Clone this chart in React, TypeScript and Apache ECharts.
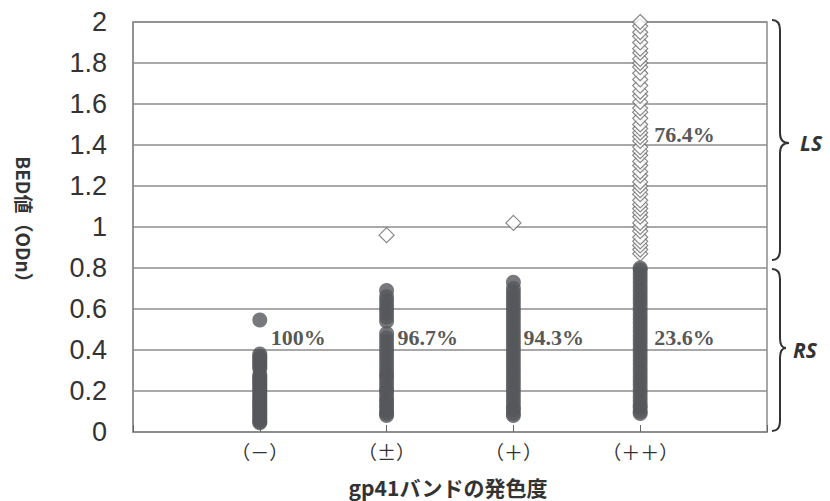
import React, { useEffect, useRef } from "react";
import * as echarts from "echarts";

// Category tick labels on the x value axis (positions 0..5)
const xTickLabels = ["", "（－）", "（±）", "（＋）", "（＋＋）", ""];
const yTicks = [0, 0.2, 0.4, 0.6, 0.8, 1, 1.2, 1.4, 1.6, 1.8, 2];
const xTitle = "gp41バンドの発色度";
const yTitle = "BED値（ODn）";

// Filled (RS) points per category
const filledMinus = [0.045, 0.05, 0.06, 0.07, 0.08, 0.09, 0.1, 0.11, 0.12, 0.13, 0.14, 0.15, 0.16, 0.17, 0.18, 0.19, 0.2, 0.21, 0.22, 0.23, 0.24, 0.25, 0.26, 0.27, 0.28, 0.31, 0.32, 0.33, 0.34, 0.35, 0.36, 0.37, 0.38, 0.546];
const filledPm = [0.08, 0.09, 0.1, 0.12, 0.13, 0.15, 0.16, 0.18, 0.2, 0.21, 0.23, 0.25, 0.27, 0.28, 0.3, 0.32, 0.34, 0.36, 0.38, 0.4, 0.42, 0.44, 0.46, 0.48, 0.54, 0.56, 0.58, 0.6, 0.62, 0.64, 0.66, 0.69];
const filledPlus = [0.08, 0.09, 0.11, 0.12, 0.14, 0.16, 0.18, 0.2, 0.22, 0.24, 0.26, 0.28, 0.3, 0.32, 0.34, 0.36, 0.38, 0.4, 0.42, 0.44, 0.46, 0.48, 0.5, 0.52, 0.54, 0.56, 0.58, 0.6, 0.62, 0.64, 0.66, 0.68, 0.7, 0.73];
const filledPP = [0.09, 0.1, 0.12, 0.13, 0.15, 0.17, 0.19, 0.21, 0.23, 0.25, 0.27, 0.29, 0.31, 0.33, 0.35, 0.37, 0.39, 0.41, 0.43, 0.45, 0.47, 0.49, 0.51, 0.53, 0.55, 0.57, 0.59, 0.61, 0.63, 0.65, 0.67, 0.69, 0.71, 0.73, 0.75, 0.77, 0.79, 0.8];

// Open diamond (LS) points per category
const openMinus: number[] = [];
const openPm = [0.96];
const openPlus = [1.02];
const openPP = [0.87, 0.89, 0.91, 0.93, 0.95, 0.98, 1.0, 1.02, 1.05, 1.07, 1.09, 1.11, 1.13, 1.16, 1.18, 1.2, 1.22, 1.25, 1.27, 1.3, 1.32, 1.35, 1.37, 1.39, 1.42, 1.44, 1.46, 1.48, 1.5, 1.53, 1.56, 1.58, 1.61, 1.64, 1.66, 1.69, 1.72, 1.75, 1.78, 1.8, 1.82, 1.85, 1.87, 1.9, 1.93, 1.95, 1.98, 2.0];

// Percentage labels
const pctX = [1, 2, 3, 4, 4];
const pctY = [0.46, 0.46, 0.46, 0.46, 1.45];
const pctText = ["100%", "96.7%", "94.3%", "23.6%", "76.4%"];
const pctDist = [11, 11, 10, 14, 14];

const braceLS = "M772 20 Q780 20 780 30 L780 133 Q780 143 789 143 Q780 143 780 153 L780 250 Q780 260 772 260";
const braceRS = "M772 269 Q780 269 780 279 L780 338 Q780 348 786 348 Q780 348 780 358 L780 421 Q780 431 772 431";
echarts.graphic.registerShape("braceLS", echarts.graphic.extendPath(braceLS, {}));
echarts.graphic.registerShape("braceRS", echarts.graphic.extendPath(braceRS, {}));

const filledGroups = [filledMinus, filledPm, filledPlus, filledPP];
const openGroups = [openMinus, openPm, openPlus, openPP];

export default function App() {
  const ref = useRef<HTMLDivElement>(null);
  useEffect(() => {
    if (!ref.current) return;
    const chart = echarts.init(ref.current, undefined, { renderer: "svg" });
    const filledData: number[][] = [];
    filledGroups.forEach((g, i) => g.forEach((v) => filledData.push([i + 1, v])));
    const openData: number[][] = [];
    openGroups.forEach((g, i) => g.forEach((v) => openData.push([i + 1, v])));
    const labelData = pctText.map((t, i) => ({
      value: [pctX[i], pctY[i]],
      label: { formatter: t, distance: pctDist[i] },
    }));
    const gridColor = "#8c8c8c";
    chart.setOption({
      animation: false,
      grid: { left: 133, right: 63, top: 22, bottom: 69, show: true, borderColor: gridColor, borderWidth: 1.5, backgroundColor: "transparent" },
      xAxis: {
        type: "value",
        min: 0,
        max: 5,
        interval: 1,
        axisLine: { lineStyle: { color: gridColor, width: 1.5 } },
        axisTick: { show: true, inside: true, length: 7, lineStyle: { color: "#666", width: 1 } },
        splitLine: { show: false },
        axisLabel: {
          formatter: (v: number) => xTickLabels[Math.round(v)] ?? "",
          fontFamily: "Noto Sans CJK JP",
          fontSize: 19,
          color: "#333",
          margin: 10,
        },
      },
      yAxis: {
        type: "value",
        min: yTicks[0],
        max: yTicks[yTicks.length - 1],
        interval: 0.2,
        axisLine: { show: true, lineStyle: { color: gridColor, width: 1.5 } },
        axisTick: { show: false },
        splitLine: { lineStyle: { color: gridColor, width: 1.5 } },
        axisLabel: {
          formatter: (v: number) => String(+v.toFixed(1)),
          fontFamily: "Liberation Sans",
          fontSize: 27,
          color: "#333",
          margin: 26,
        },
      },
      series: [
        {
          type: "scatter",
          name: "RS",
          data: filledData,
          symbol: "circle",
          symbolSize: 15,
          itemStyle: { color: "#55575b" },
          z: 3,
        },
        {
          type: "scatter",
          name: "LS",
          data: openData,
          symbol: "diamond",
          symbolSize: 15,
          itemStyle: { color: "#ffffff", borderColor: "#6a6a6a", borderWidth: 1.2 },
          z: 4,
        },
        {
          type: "scatter",
          name: "pct",
          data: labelData,
          symbol: "circle",
          symbolSize: 0,
          itemStyle: { color: "transparent" },
          label: {
            show: true,
            position: "right",
            fontFamily: "Liberation Serif",
            fontWeight: "bold",
            fontSize: 22,
            color: "#2a2a2a",
          },
          z: 5,
        },
      ],
      graphic: [
        { type: "braceLS", x: 0, y: 0, style: { fill: "none", stroke: "#333", lineWidth: 2 } },
        { type: "braceRS", x: 0, y: 0, style: { fill: "none", stroke: "#333", lineWidth: 2 } },
        {
          type: "text",
          x: 800,
          y: 143,
          style: { text: "LS", fontFamily: "Open Sans", fontSize: 21, fontWeight: "bold", fontStyle: "italic", fill: "#333", verticalAlign: "middle" },
        },
        {
          type: "text",
          x: 793,
          y: 350,
          style: { text: "RS", fontFamily: "Open Sans", fontSize: 21, fontWeight: "bold", fontStyle: "italic", fill: "#333", verticalAlign: "middle" },
        },
        {
          type: "text",
          x: 24,
          y: 224,
          rotation: -Math.PI / 2,
          style: { text: yTitle, fontFamily: "Noto Sans CJK JP", fontSize: 19, fontWeight: "bold", fill: "#333", align: "center", verticalAlign: "middle" },
        },
        {
          type: "text",
          x: 448,
          y: 487,
          style: { text: xTitle, fontFamily: "Noto Sans CJK JP", fontSize: 21, fontWeight: "bold", fill: "#333", align: "center", verticalAlign: "middle" },
        },
      ],
    });
    return () => chart.dispose();
  }, []);
  return <div ref={ref} style={{ width: 830, height: 501, position: "absolute", left: 0, top: 0 }} />;
}
